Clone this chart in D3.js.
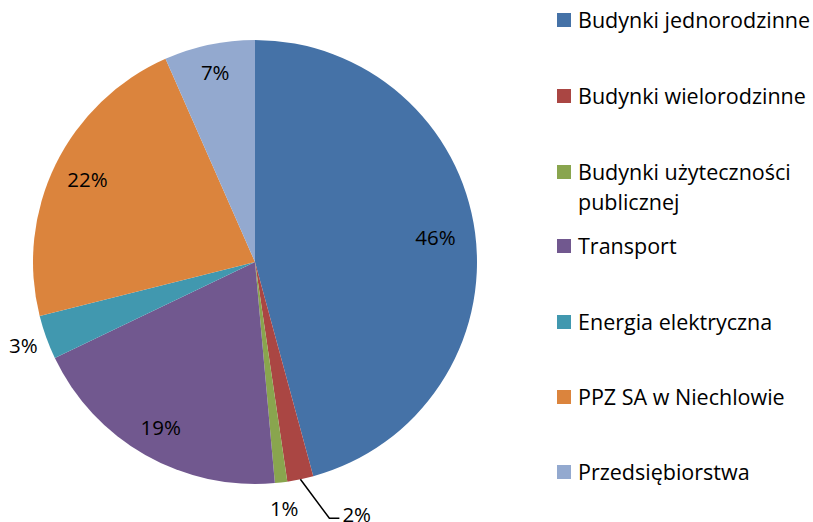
<!DOCTYPE html>
<html><head><meta charset="utf-8">
<script src="https://cdn.jsdelivr.net/npm/d3@7"></script>
<style>html,body{margin:0;padding:0;background:#fff}svg{display:block}text{font-family:"Open Sans",Lato,sans-serif}</style>
</head><body>
<script>
const categories = ["Budynki jednorodzinne","Budynki wielorodzinne","Budynki użyteczności publicznej","Transport","Energia elektryczna","PPZ SA w Niechlowie","Przedsiębiorstwa"];
const values = [45.75, 1.9, 0.9, 19.3, 3.2, 22.3, 6.6];
const valueLabels = ["46%","2%","1%","19%","3%","22%","7%"];
const colors = ["#4572A7","#AA4643","#89A54E","#71588F","#4198AF","#DB843D","#93A9CF"];

const W = 813, H = 522;
const svg = d3.select("body").append("svg").attr("width", W).attr("height", H);
svg.append("rect").attr("width", W).attr("height", H).attr("fill", "#fff");

const cx = 255, cy = 262, R = 222;
const g = svg.append("g").attr("transform", `translate(${cx},${cy})`);
const pie = d3.pie().sort(null).value(d => d)(values);
const arc = d3.arc().innerRadius(0).outerRadius(R);
g.selectAll("path.slice").data(pie).enter().append("path")
  .attr("d", arc).attr("fill", (d, i) => colors[i]);

const labelR = [0.82, 1.0, 1.12, 0.86, 1.11, 0.84, 0.87];
const fs = 20.5;
pie.forEach((d, i) => {
  const a = (d.startAngle + d.endAngle) / 2;
  if (i === 1) {
    const p0 = [R * Math.sin(a), -R * Math.cos(a)];
    const p1 = [p0[0] + 29, p0[1] + 39];
    const p2 = [p1[0] + 10, p1[1]];
    g.append("path").attr("d", d3.line()([p0, p1, p2]))
      .attr("fill", "none").attr("stroke", "#000").attr("stroke-width", 1.5);
    g.append("text").attr("x", p2[0] + 3).attr("y", p2[1]).attr("dy", "0.2em")
      .attr("font-size", fs).attr("fill", "#000").text(valueLabels[i]);
    return;
  }
  const r = R * labelR[i];
  g.append("text").attr("x", r * Math.sin(a)).attr("y", -r * Math.cos(a))
    .attr("text-anchor", "middle").attr("dy", "0.35em")
    .attr("font-size", fs).attr("fill", "#000").text(valueLabels[i]);
});

const legendY = [20, 96, 172, 246, 322, 397, 472];
const lg = svg.append("g");
categories.forEach((c, i) => {
  lg.append("rect").attr("x", 557).attr("y", legendY[i] - 7).attr("width", 14).attr("height", 14).attr("fill", colors[i]);
  const t = lg.append("text").attr("x", 578).attr("y", legendY[i]).attr("dy", "0.35em")
    .attr("font-size", 21.5).attr("fill", "#000");
  if (i === 2) {
    t.append("tspan").attr("x", 578).text("Budynki użyteczności");
    t.append("tspan").attr("x", 578).attr("dy", 30).text("publicznej");
  } else t.text(c);
});
</script>
</body></html>
